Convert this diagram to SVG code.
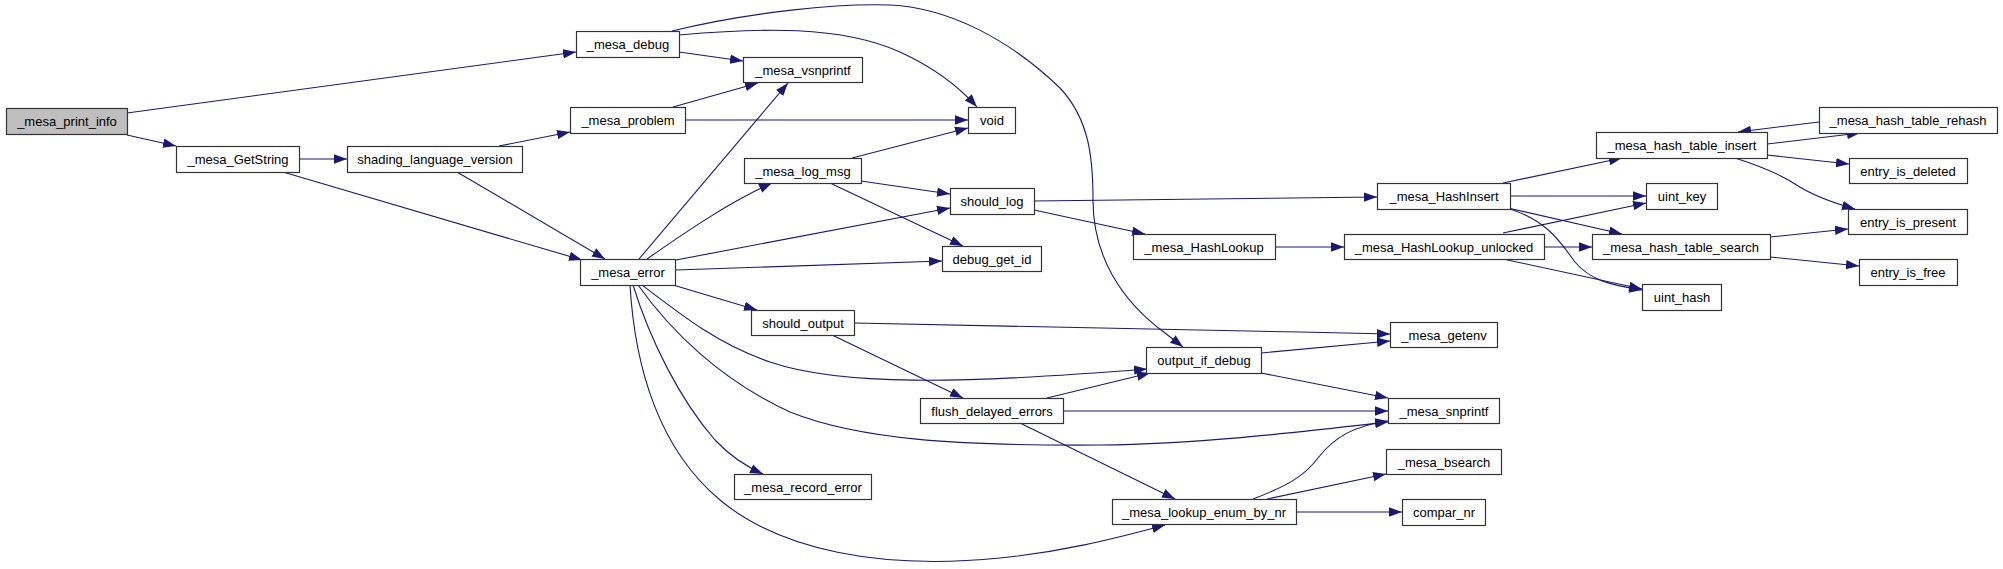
<svg xmlns="http://www.w3.org/2000/svg" width="2003" height="569" viewBox="0 0 2003 569">
<style>
.n rect{fill:#fff;stroke:#333;stroke-width:1.2}
.n text{font-family:"Liberation Sans",Arial,sans-serif;font-size:13px;fill:#000;text-anchor:middle}
#n_print_info rect{fill:#bfbfbf}
.e path{fill:none;stroke:#191970;stroke-width:1.1;marker-end:url(#ah)}
</style>
<defs>
<marker id="ah" viewBox="0 0 13 10" refX="13" refY="5" markerWidth="13" markerHeight="10" orient="auto" markerUnits="userSpaceOnUse">
<path d="M0,0.3 L13,5 L0,9.7 z" fill="#191970"/>
</marker>
</defs>
<rect width="2003" height="569" fill="#fff"/>
<g id="edges" class="e">
<path d="M127,113 L576,52"/>
<path d="M127,135 L176,146"/>
<path d="M299,159 L347,159"/>
<path d="M283,172 L582,260"/>
<path d="M499,146 L570,132"/>
<path d="M457,172 L605,259"/>
<path d="M679,52 L743,61"/>
<path d="M679,35 C760,28 840,25 900,52 C935,68 960,88 977,107"/>
<path d="M672,31 C750,12 840,3 890,5 C950,8 1010,40 1060,88 C1090,120 1093,160 1093,200 C1093,255 1120,300 1165,333 L1183,347"/>
<path d="M673,107 L758,83"/>
<path d="M685,120 L968,120"/>
<path d="M639,259 L788,83"/>
<path d="M647,259 C690,229 730,202 772,183"/>
<path d="M852,158 L968,128"/>
<path d="M861,181 L950,194"/>
<path d="M830,183 L963,246"/>
<path d="M676,260 L950,208"/>
<path d="M676,270 L942,261"/>
<path d="M1034,201 L1377,197"/>
<path d="M1034,210 L1145,234"/>
<path d="M1275,247 L1344,247"/>
<path d="M1503,183 L1622,158"/>
<path d="M1510,196 L1646,196"/>
<path d="M1508,208 L1622,234"/>
<path d="M1510,209 C1550,222 1562,245 1575,262 C1590,280 1610,285 1642,290"/>
<path d="M1503,233 L1646,203"/>
<path d="M1544,247 L1592,247"/>
<path d="M1503,259 L1642,289"/>
<path d="M1767,144 L1860,133"/>
<path d="M1819,122 L1738,132"/>
<path d="M1767,155 L1849,164"/>
<path d="M1735,158 C1760,166 1780,174 1795,184 C1810,194 1830,202 1855,209"/>
<path d="M1770,237 L1848,229"/>
<path d="M1770,257 L1859,266"/>
<path d="M673,285 L757,310"/>
<path d="M642,285 C685,318 720,345 770,362 C840,386 960,384 1147,369"/>
<path d="M638,285 C670,330 720,380 790,412 C860,440 960,446 1100,445 C1200,444 1300,432 1388,422"/>
<path d="M633,285 C650,340 680,400 715,440 C730,456 745,466 763,474"/>
<path d="M630,285 C635,370 660,450 720,500 C780,550 880,570 1000,558 C1060,552 1110,540 1165,525"/>
<path d="M854,323 C1000,325 1200,330 1390,334"/>
<path d="M832,335 L963,398"/>
<path d="M1261,353 L1390,341"/>
<path d="M1261,373 L1388,398"/>
<path d="M1047,398 L1150,373"/>
<path d="M1063,411 L1388,411"/>
<path d="M1020,423 L1175,499"/>
<path d="M1253,499 C1290,485 1305,475 1318,458 C1335,436 1355,426 1388,421"/>
<path d="M1267,499 L1386,474"/>
<path d="M1296,512 L1402,512"/>
</g>
<g id="n_print_info" class="n"><rect x="6.5" y="108.5" width="121" height="26"/><text x="67" y="126">_mesa_print_info</text></g>
<g id="n_GetString" class="n"><rect x="176.5" y="146.5" width="123" height="26"/><text x="238" y="164">_mesa_GetString</text></g>
<g id="n_shading_language_version" class="n"><rect x="347.5" y="146.5" width="175" height="26"/><text x="435" y="164">shading_language_version</text></g>
<g id="n_mesa_debug" class="n"><rect x="576.5" y="31.5" width="103" height="26"/><text x="628" y="49">_mesa_debug</text></g>
<g id="n_mesa_vsnprintf" class="n"><rect x="743.5" y="57.5" width="119" height="25"/><text x="803" y="74.5">_mesa_vsnprintf</text></g>
<g id="n_mesa_problem" class="n"><rect x="570.5" y="107.5" width="115" height="26"/><text x="628" y="125">_mesa_problem</text></g>
<g id="n_void" class="n"><rect x="968.5" y="107.5" width="47" height="26"/><text x="992" y="125">void</text></g>
<g id="n_mesa_log_msg" class="n"><rect x="744.5" y="158.5" width="117" height="25"/><text x="803" y="175.5">_mesa_log_msg</text></g>
<g id="n_should_log" class="n"><rect x="950.5" y="188.5" width="84" height="26"/><text x="992" y="206">should_log</text></g>
<g id="n_debug_get_id" class="n"><rect x="942.5" y="246.5" width="99" height="25"/><text x="992" y="263.5">debug_get_id</text></g>
<g id="n_mesa_error" class="n"><rect x="580.5" y="259.5" width="95" height="26"/><text x="628" y="277">_mesa_error</text></g>
<g id="n_mesa_HashInsert" class="n"><rect x="1377.5" y="183.5" width="133" height="26"/><text x="1444" y="201">_mesa_HashInsert</text></g>
<g id="n_mesa_HashLookup" class="n"><rect x="1133.5" y="234.5" width="142" height="25"/><text x="1204" y="251.5">_mesa_HashLookup</text></g>
<g id="n_mesa_HashLookup_unlocked" class="n"><rect x="1344.5" y="234.5" width="200" height="25"/><text x="1444" y="251.5">_mesa_HashLookup_unlocked</text></g>
<g id="n_mesa_hash_table_insert" class="n"><rect x="1596.5" y="132.5" width="171" height="26"/><text x="1682" y="150">_mesa_hash_table_insert</text></g>
<g id="n_mesa_hash_table_rehash" class="n"><rect x="1819.5" y="107.5" width="178" height="26"/><text x="1908" y="125">_mesa_hash_table_rehash</text></g>
<g id="n_entry_is_deleted" class="n"><rect x="1849.5" y="158.5" width="118" height="25"/><text x="1908" y="175.5">entry_is_deleted</text></g>
<g id="n_uint_key" class="n"><rect x="1646.5" y="183.5" width="71" height="26"/><text x="1682" y="201">uint_key</text></g>
<g id="n_entry_is_present" class="n"><rect x="1848.5" y="209.5" width="119" height="25"/><text x="1908" y="226.5">entry_is_present</text></g>
<g id="n_mesa_hash_table_search" class="n"><rect x="1592.5" y="234.5" width="178" height="25"/><text x="1681" y="251.5">_mesa_hash_table_search</text></g>
<g id="n_entry_is_free" class="n"><rect x="1859.5" y="259.5" width="98" height="26"/><text x="1908" y="277">entry_is_free</text></g>
<g id="n_uint_hash" class="n"><rect x="1642.5" y="284.5" width="79" height="26"/><text x="1682" y="302">uint_hash</text></g>
<g id="n_should_output" class="n"><rect x="751.5" y="310.5" width="103" height="25"/><text x="803" y="327.5">should_output</text></g>
<g id="n_flush_delayed_errors" class="n"><rect x="920.5" y="398.5" width="143" height="25"/><text x="992" y="415.5">flush_delayed_errors</text></g>
<g id="n_mesa_record_error" class="n"><rect x="734.5" y="474.5" width="137" height="25"/><text x="803" y="491.5">_mesa_record_error</text></g>
<g id="n_mesa_getenv" class="n"><rect x="1390.5" y="322.5" width="107" height="25"/><text x="1444" y="339.5">_mesa_getenv</text></g>
<g id="n_output_if_debug" class="n"><rect x="1146.5" y="347.5" width="115" height="26"/><text x="1204" y="365">output_if_debug</text></g>
<g id="n_mesa_snprintf" class="n"><rect x="1388.5" y="398.5" width="111" height="25"/><text x="1444" y="415.5">_mesa_snprintf</text></g>
<g id="n_mesa_bsearch" class="n"><rect x="1386.5" y="449.5" width="115" height="25"/><text x="1444" y="466.5">_mesa_bsearch</text></g>
<g id="n_mesa_lookup_enum_by_nr" class="n"><rect x="1112.5" y="499.5" width="184" height="25"/><text x="1204" y="516.5">_mesa_lookup_enum_by_nr</text></g>
<g id="n_compar_nr" class="n"><rect x="1402.5" y="499.5" width="83" height="26"/><text x="1444" y="517">compar_nr</text></g>
</svg>
